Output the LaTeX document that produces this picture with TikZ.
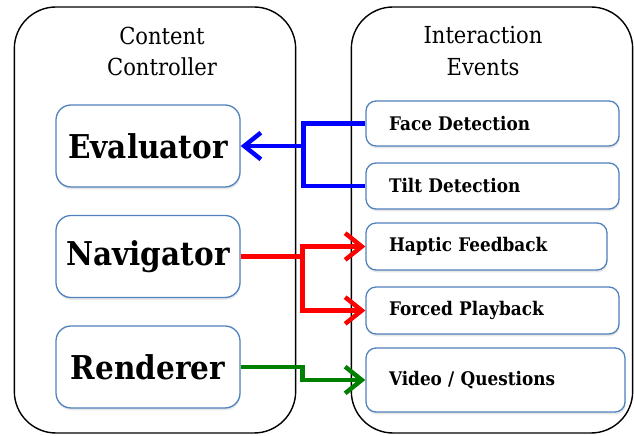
\documentclass[tikz,border=0pt]{standalone}
\usepackage{fontspec}
\usepackage{xcolor}
\usepackage{tikz}
\usetikzlibrary{arrows.meta,shadows}
\setmainfont[FakeStretch=0.9]{DejaVu Serif}
\definecolor{boxblue}{RGB}{79,129,189}
\definecolor{linkblue}{RGB}{0,0,255}
\definecolor{linkred}{RGB}{255,0,0}
\definecolor{linkgreen}{RGB}{0,128,0}

\begin{document}
\begin{tikzpicture}[
    panel/.style={draw, rectangle, rounded corners=1.25cm, line width=1.2pt, minimum width=8.44cm, minimum height=12.78cm},
    paneltitle/.style={align=center, font=\fontsize{20}{27}\selectfont},
    partbox/.style={draw=boxblue, fill=white, rectangle, rounded corners=0.45cm, line width=1.1pt, minimum width=5.52cm, minimum height=2.46cm, font=\fontsize{28}{32}\selectfont\bfseries, drop shadow={shadow xshift=0.5pt, shadow yshift=-2pt, opacity=0.18}},
    eventbox/.style={draw=boxblue, fill=white, rectangle, rounded corners=0.3cm, line width=1.1pt, align=left, inner xsep=0.69cm, font=\fontsize{16}{19}\selectfont\bfseries, drop shadow={shadow xshift=0.5pt, shadow yshift=-2pt, opacity=0.18}},
    link/.style={line width=3.8pt},
    >={Straight Barb[length=0.5cm, width=0.8cm]},
]
    \useasboundingbox (0,0) rectangle (19.02,13.08);

    % Panels
    \node[panel] (ctrl) at (4.65, 6.48) {};
    \node[panel] (events) at (14.76, 6.48) {};
    \node[paneltitle] (ctrltitle) at (4.86, 11.54) {Content\\Controller};
    \node[paneltitle] (eventstitle) at (14.49, 11.55) {Interaction\\Events};

    % Controller parts
    \node[partbox] (eval) at (4.44, 8.70) {Evaluator};
    \node[partbox] (nav) at (4.44, 5.385) {Navigator};
    \node[partbox] (rend) at (4.44, 2.07) {Renderer};

    % Interaction events
    \node[eventbox, text width=6.21cm, minimum height=1.35cm] (face) at (14.775, 9.375) {Face Detection};
    \node[eventbox, text width=6.21cm, minimum height=1.38cm] (tilt) at (14.775, 7.50) {Tilt Detection};
    \node[eventbox, text width=5.85cm, minimum height=1.41cm] (haptic) at (14.595, 5.685) {Haptic Feedback};
    \node[eventbox, text width=6.21cm, minimum height=1.41cm] (forced) at (14.775, 3.765) {Forced Playback};
    \node[eventbox, text width=6.39cm, minimum height=1.92cm] (video) at (14.865, 1.68) {Video / Questions};

    % Arrows
    \draw[link, linkblue] (face.west) -- ++(-1.86,0) coordinate (bsplit) |- (tilt.west);
    \draw[link, linkblue, ->] (bsplit |- eval.east) -- (eval.east);
    \draw[link, linkred] (nav.east) -- ++(1.86,0) coordinate (rsplit);
    \draw[link, linkred, ->] (rsplit) |- (haptic.west);
    \draw[link, linkred, ->] (rsplit) |- (forced.west);
    \draw[link, linkgreen, ->] (rend.east) -- ++(1.86,0) |- (video.west);

\end{tikzpicture}
\end{document}
